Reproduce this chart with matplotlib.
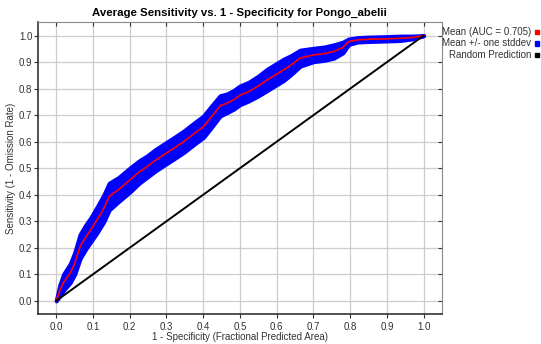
import matplotlib
matplotlib.use("Agg")
import matplotlib.pyplot as plt
import numpy as np

plt.rcParams['font.family'] = ['Liberation Sans', 'DejaVu Sans']

fpr = [0, 0.01, 0.02, 0.038, 0.05, 0.065, 0.08, 0.095, 0.111, 0.13, 0.144, 0.17, 0.201,
       0.225, 0.247, 0.27, 0.292, 0.32, 0.347, 0.375, 0.401, 0.42, 0.446, 0.465, 0.483,
       0.50, 0.524, 0.55, 0.574, 0.60, 0.619, 0.64, 0.664, 0.70, 0.73, 0.755, 0.78, 0.796,
       0.82, 0.846, 0.9, 0.937, 0.97, 1.0]
tpr = [0, 0.04, 0.07, 0.104, 0.14, 0.205, 0.24, 0.27, 0.305, 0.35, 0.393, 0.42, 0.456,
       0.485, 0.506, 0.53, 0.55, 0.575, 0.60, 0.63, 0.657, 0.69, 0.735, 0.745, 0.758,
       0.775, 0.789, 0.81, 0.833, 0.855, 0.871, 0.89, 0.915, 0.927, 0.932, 0.940, 0.955,
       0.977, 0.984, 0.986, 0.988, 0.99, 0.993, 1.0]
std = [0, 0.02, 0.03, 0.035, 0.04, 0.045, 0.045, 0.045, 0.048, 0.05, 0.05, 0.045, 0.045,
       0.042, 0.04, 0.04, 0.04, 0.04, 0.04, 0.04, 0.04, 0.04, 0.038, 0.035, 0.035,
       0.035, 0.035, 0.037, 0.04, 0.04, 0.04, 0.035, 0.03, 0.025, 0.025, 0.025, 0.02,
       0.01, 0.008, 0.008, 0.008, 0.008, 0.005, 0]
random_x = [0, 1]
random_y = [0, 1]
ticks = [0.0, 0.1, 0.2, 0.3, 0.4, 0.5, 0.6, 0.7, 0.8, 0.9, 1.0]
legend_labels = ["Mean (AUC = 0.705)", "Mean +/- one stddev", "Random Prediction"]
legend_colors = ["#ff0000", "#0000ff", "#000000"]

x = np.array(fpr)
m = np.array(tpr)
s = np.array(std)
upper = np.minimum(m + s, 1.0)
lower = np.maximum(m - s, 0.0)

fig = plt.figure(figsize=(5.41, 3.44), dpi=100)
ax = fig.add_axes([0.070, 0.087, 0.747, 0.848])

ax.fill_between(x, lower, upper, color="#0000ff", lw=3.0, edgecolor="#0000ff", zorder=2)
ax.plot(x, m, color="#ff0000", lw=1.2, zorder=3)
ax.plot(random_x, random_y, color="#000000", lw=1.4, zorder=3)

ax.set_xlim(-0.05, 1.05)
ax.set_ylim(-0.05, 1.05)
ax.set_xticks(ticks)
ax.set_yticks(ticks)
ax.set_xticklabels([f"{t:.1f}" for t in ticks])
ax.set_yticklabels([f"{t:.1f}" for t in ticks])
ax.grid(True, color="#cccccc", lw=0.9, zorder=0)
ax.set_axisbelow(True)
ax.tick_params(labelsize=7, length=3, colors="#333333", labelcolor="#333333")
ax.tick_params(axis='x', pad=3)
ax.tick_params(axis='y', pad=1)
ax.tick_params(top=True, right=True)
for t in ax.xaxis.get_major_ticks():
    t.tick2line.set_marker(3)  # inward on top
for t in ax.yaxis.get_major_ticks():
    t.tick2line.set_marker(0)  # inward on right
for sp in ['top', 'right']:
    ax.spines[sp].set_color("#888888")
for sp in ['left', 'bottom']:
    ax.spines[sp].set_color("#333333")
    ax.spines[sp].set_linewidth(1.2)

ax.set_title("Average Sensitivity vs. 1 - Specificity for Pongo_abelii",
             fontsize=8.2, fontweight='bold', pad=5)
ax.set_xlabel("1 - Specificity (Fractional Predicted Area)", fontsize=7, labelpad=0, color="#333333")
ax.set_ylabel("Sensitivity (1 - Omission Rate)", fontsize=7, labelpad=2, color="#333333")

for i, (lab, col) in enumerate(zip(legend_labels, legend_colors)):
    ypix = 32 + i * 11.5
    yf = 1 - ypix / 344
    fig.text(531 / 541, yf, lab, ha='right', va='center', fontsize=7, color="#333333")
    fig.patches.append(plt.Rectangle((535 / 541, yf - 2 / 344), 4 / 541, 4 / 344,
                                     transform=fig.transFigure, color=col, figure=fig))

fig.savefig("out.png", dpi=100)
